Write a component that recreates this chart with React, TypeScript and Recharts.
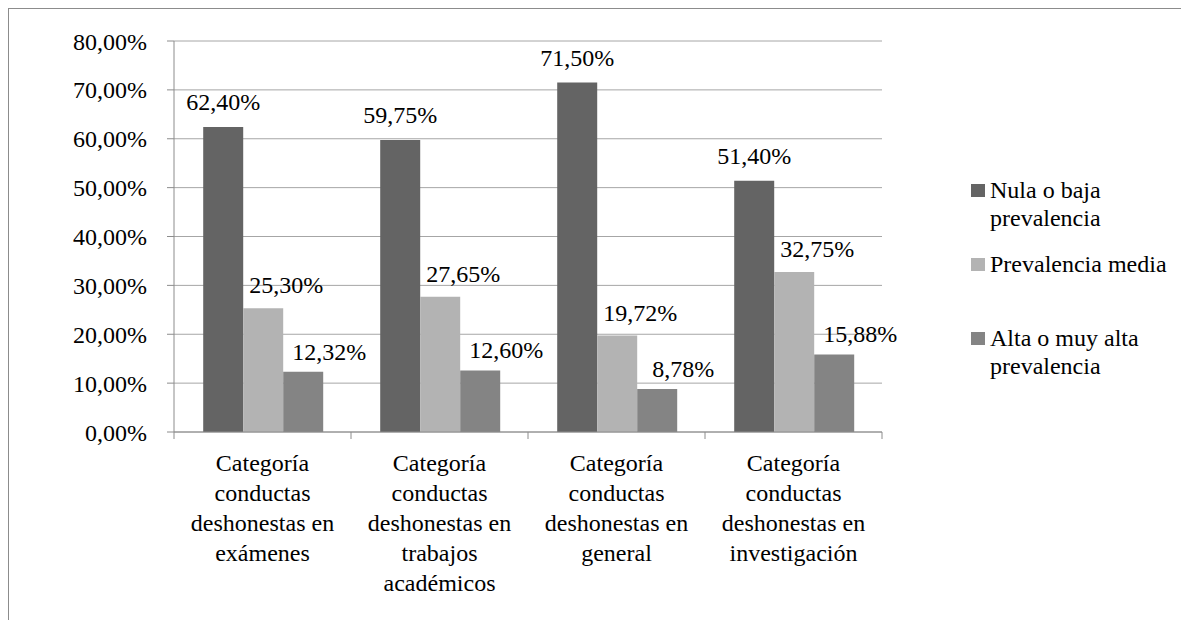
import React from "react";
import { BarChart, Bar, XAxis, YAxis, CartesianGrid, LabelList } from "recharts";

const categories = [
  "Categoría conductas deshonestas en exámenes",
  "Categoría conductas deshonestas en trabajos académicos",
  "Categoría conductas deshonestas en general",
  "Categoría conductas deshonestas en investigación",
];
const nulaBaja = [62.4, 59.75, 71.5, 51.4];
const media = [25.3, 27.65, 19.72, 32.75];
const alta = [12.32, 12.6, 8.78, 15.88];
const seriesNames = ["Nula o baja prevalencia", "Prevalencia media", "Alta o muy alta prevalencia"];
const yTicks = [0, 10, 20, 30, 40, 50, 60, 70, 80];

const COLORS = ["#646464", "#b3b3b3", "#848484"];
const FONT = '"Liberation Serif", "Times New Roman", serif';
const FS = 24;

const CHART_W = 1181;
const CHART_H = 612;
const MARGIN = { top: 32, right: 308, left: 0, bottom: 0 };
const Y_W = 165;
const X_H = 189;
const PLOT_W = CHART_W - MARGIN.right - MARGIN.left - Y_W;
const HALF_BAND = PLOT_W / categories.length / 2;

const data = categories.map((c, i) => ({
  name: c,
  s0: nulaBaja[i],
  s1: media[i],
  s2: alta[i],
}));

const fmt = (v: number) => v.toFixed(2).replace(".", ",") + "%";

let ctx: CanvasRenderingContext2D | null = null;
function wrap(text: string, maxW: number): string[] {
  if (!ctx) {
    const c = document.createElement("canvas");
    ctx = c.getContext("2d");
  }
  if (!ctx) return [text];
  ctx.font = `${FS}px ${FONT}`;
  const words = text.split(" ");
  const lines: string[] = [];
  let cur = "";
  for (const w of words) {
    const t = cur ? cur + " " + w : w;
    if (ctx.measureText(t).width > maxW && cur) {
      lines.push(cur);
      cur = w;
    } else cur = t;
  }
  if (cur) lines.push(cur);
  return lines;
}

function CategoryTick(props: any) {
  const { x, y, payload, index } = props;
  const last = index === categories.length - 1;
  const lines = wrap(String(payload.value), 172);
  return (
    <g>
      <line x1={x - HALF_BAND} x2={x - HALF_BAND} y1={y} y2={y + 7} stroke="#8c8c8c" strokeWidth={1} />
      {last && (
        <line x1={x + HALF_BAND} x2={x + HALF_BAND} y1={y} y2={y + 7} stroke="#8c8c8c" strokeWidth={1} />
      )}
      <text textAnchor="middle" fontSize={FS} fill="#000" fontFamily={FONT}>
        {lines.map((l, i) => (
          <tspan key={i} x={x} y={y + 39 + i * 30}>
            {l}
          </tspan>
        ))}
      </text>
    </g>
  );
}

const LABEL_DX = [0, 23, 26];
const LABEL_DY = [-17, -15, -12];

function makeLabel(si: number) {
  return (props: any) => {
    const { x, y, width, value } = props;
    return (
      <text
        x={x + width / 2 + LABEL_DX[si]}
        y={y + LABEL_DY[si]}
        textAnchor="middle"
        fontSize={FS}
        fill="#000"
        fontFamily={FONT}
      >
        {fmt(value)}
      </text>
    );
  };
}

const CSS = `.cw, .cw *, .cw svg text, .cw svg tspan { font-family: "Liberation Serif", "Times New Roman", serif !important; }`;

export default function App() {
  return (
    <div
      className="cw"
      style={{
        position: "relative",
        width: 1190,
        height: 630,
        borderTop: "1px solid #8c8c8c",
        borderLeft: "1px solid #8c8c8c",
        fontFamily: FONT,
      }}
    >
      <style>{CSS}</style>
      <BarChart
        width={CHART_W}
        height={CHART_H}
        data={data}
        margin={MARGIN}
        barCategoryGap="16.5%"
        barGap={0}
      >
        <CartesianGrid vertical={false} stroke="#a6a6a6" />
        <XAxis
          dataKey="name"
          height={X_H}
          interval={0}
          tickLine={false}
          tickSize={0}
          tickMargin={0}
          axisLine={{ stroke: "#8c8c8c" }}
          tick={<CategoryTick />}
        />
        <YAxis
          width={Y_W}
          domain={[0, 80]}
          ticks={yTicks}
          tickFormatter={fmt}
          tickSize={7}
          tickMargin={20}
          axisLine={{ stroke: "#8c8c8c" }}
          tickLine={{ stroke: "#8c8c8c" }}
          tick={{ fontSize: FS, fill: "#000", fontFamily: FONT }}
        />
        {["s0", "s1", "s2"].map((k, i) => (
          <Bar key={k} dataKey={k} name={seriesNames[i]} fill={COLORS[i]} isAnimationActive={false}>
            <LabelList dataKey={k} content={makeLabel(i)} />
          </Bar>
        ))}
      </BarChart>
      <div style={{ position: "absolute", left: 962, top: 167, width: 215 }}>
        {seriesNames.map((n, i) => (
          <div key={n} style={{ height: 74, display: "flex", alignItems: "flex-start" }}>
            <div
              style={{
                width: 14,
                height: 13,
                background: COLORS[i],
                marginTop: 8,
                flex: "0 0 auto",
              }}
            />
            <div style={{ marginLeft: 5, fontSize: FS, lineHeight: "28px", color: "#000", width: 192 }}>{n}</div>
          </div>
        ))}
      </div>
    </div>
  );
}
